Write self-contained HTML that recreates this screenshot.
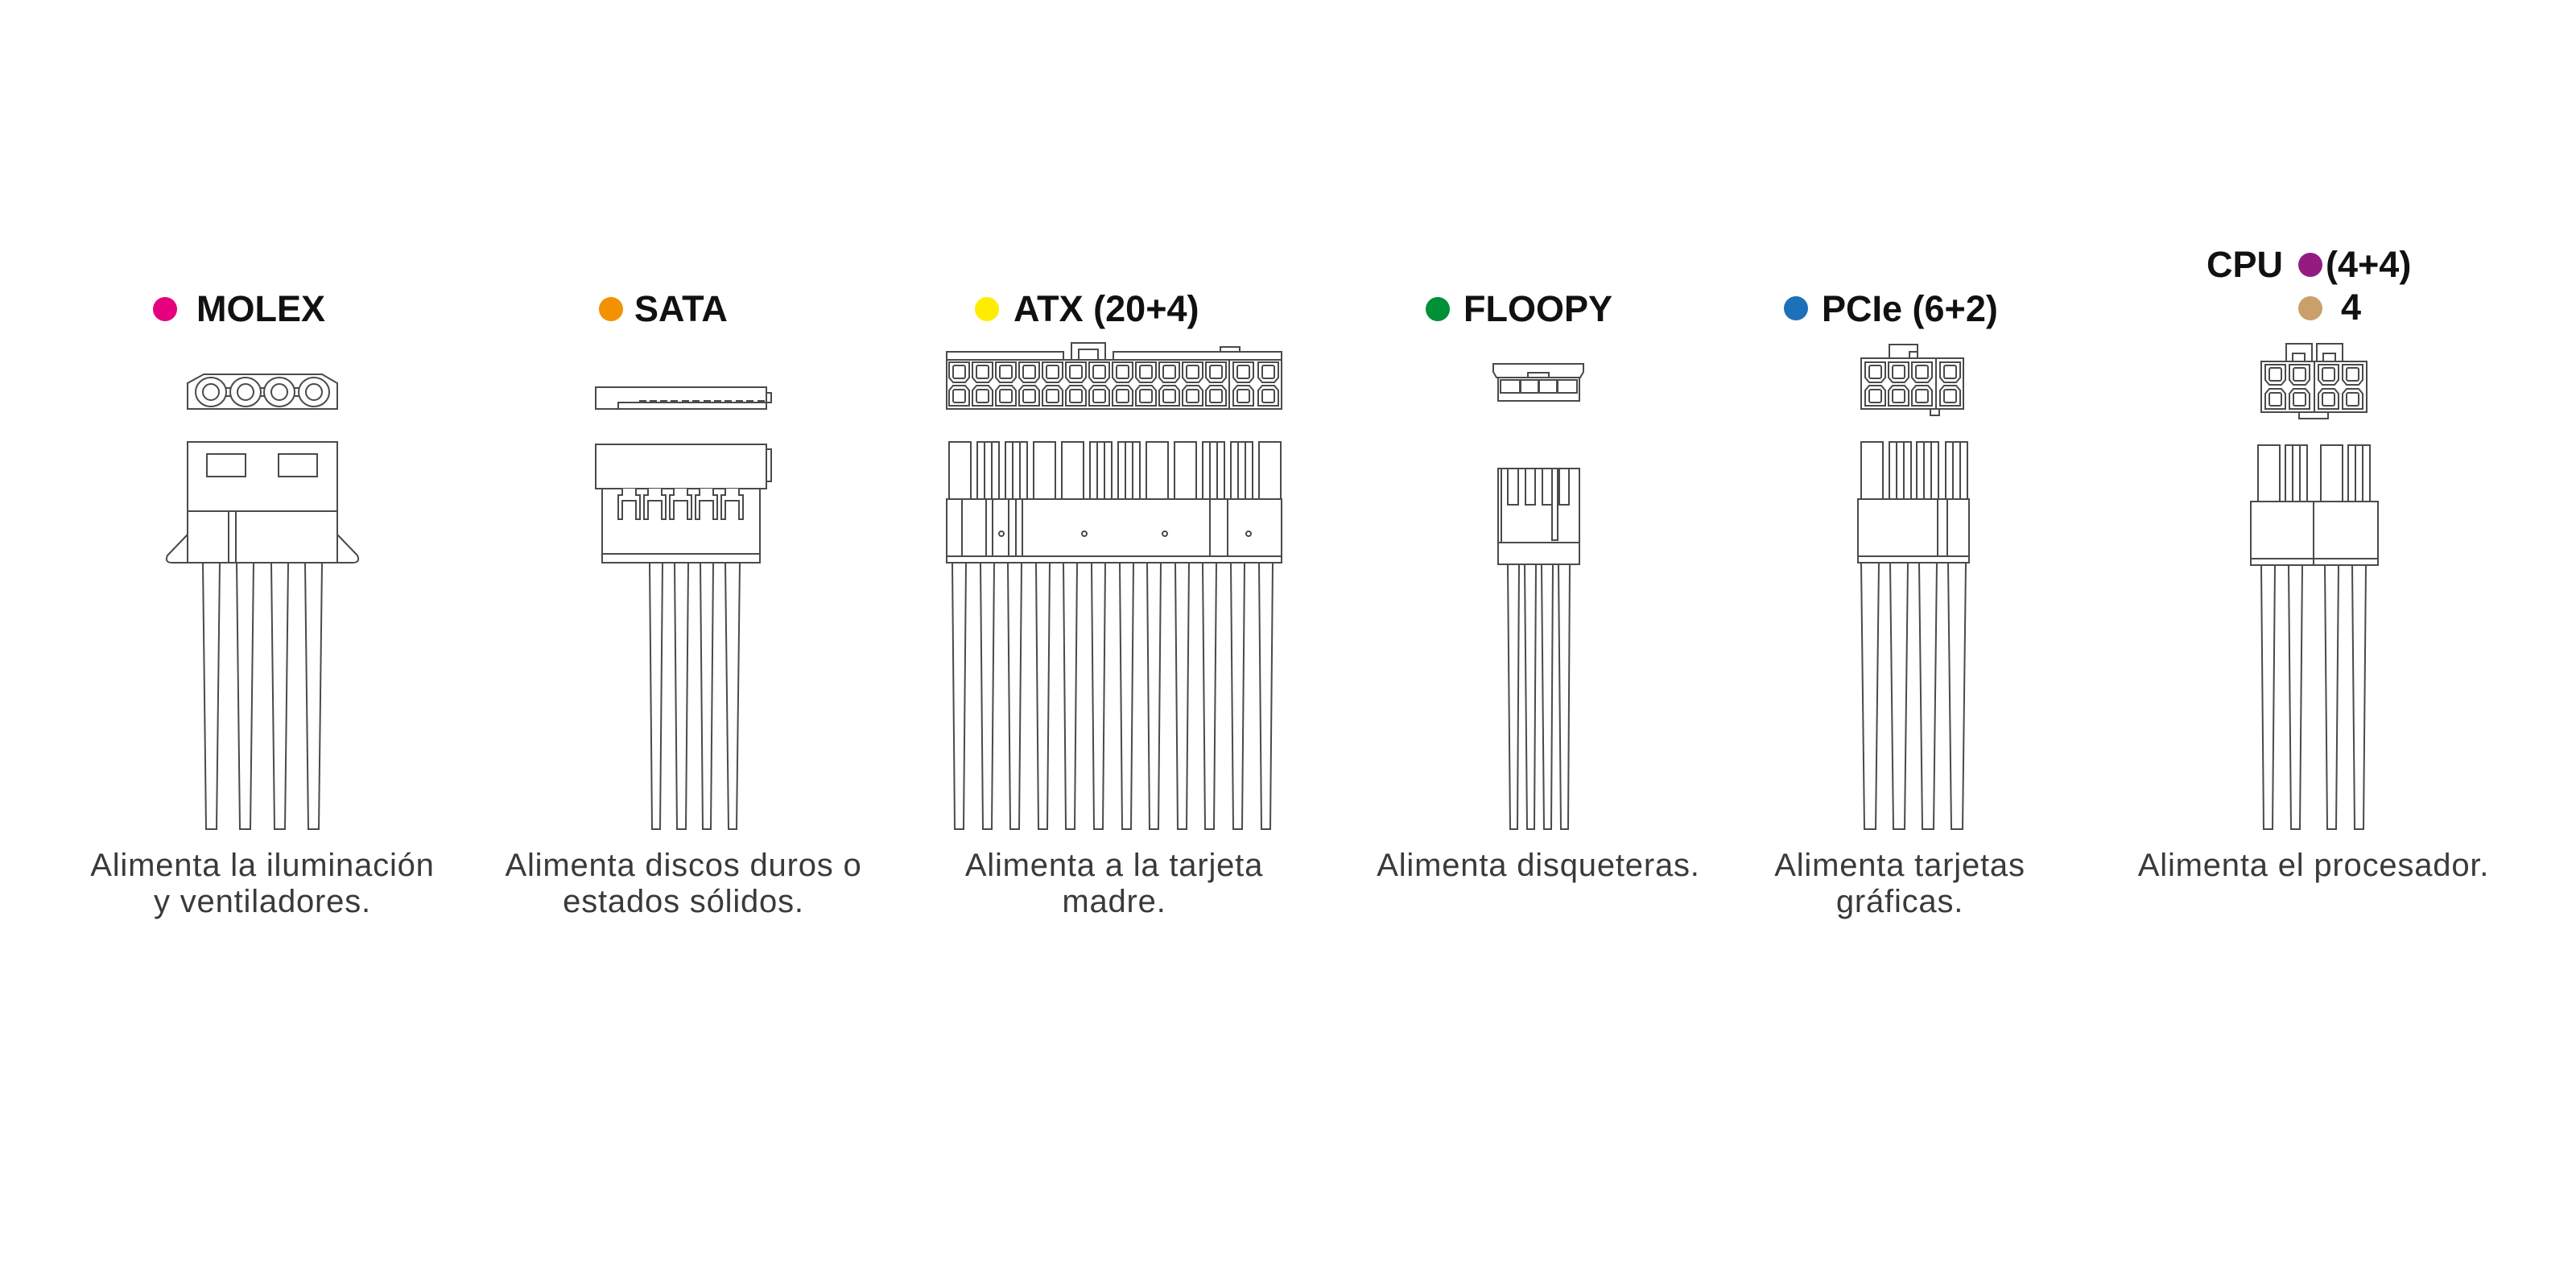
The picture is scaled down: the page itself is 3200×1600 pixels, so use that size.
<!DOCTYPE html>
<html><head><meta charset="utf-8"><style>
html,body{margin:0;padding:0;background:#fff;}
svg{display:block}
.s{fill:#fff;stroke:#4a4a4a;stroke-width:2}
.l{stroke:#4a4a4a;stroke-width:2;fill:none}
.t{font-family:"Liberation Sans",sans-serif;font-weight:bold;font-size:45px;fill:#111}
.d{font-family:"Liberation Sans",sans-serif;font-size:40px;letter-spacing:0.8px;fill:#3a3a3a;text-anchor:middle}
</style></head><body>
<svg width="3200" height="1600" viewBox="0 0 3200 1600" xmlns="http://www.w3.org/2000/svg">
<defs>
<g id="pin"><path class="s" d="M1 1H26V20L21 26H6L1 20Z"/><rect class="s" x="6" y="5" width="15" height="16" rx="2"/></g>
<g id="pin2"><path class="s" d="M6 1H21L26 7V26H1V7Z"/><rect class="s" x="6" y="6" width="15" height="16" rx="2"/></g>
<g id="tabL"><rect class="s" x="0" y="0" width="27" height="71"/><line class="l" x1="9" y1="0" x2="9" y2="71"/><line class="l" x1="18" y1="0" x2="18" y2="71"/></g>
<g id="tabP"><rect class="s" x="0" y="0" width="27" height="71"/></g>
<path id="tooth" class="s" d="M773 607V615H768V645H773V622H790V645H795V615H790V607"/>
</defs>

<circle cx="205" cy="384" r="15" fill="#e6007e"/>
<text class="t" x="244" y="399">MOLEX</text>
<circle cx="759" cy="384" r="15" fill="#f39200"/>
<text class="t" x="788" y="399">SATA</text>
<circle cx="1226" cy="384" r="15" fill="#ffed00"/>
<text class="t" x="1259" y="399">ATX (20+4)</text>
<circle cx="1786" cy="384" r="15" fill="#009036"/>
<text class="t" x="1818" y="399">FLOOPY</text>
<circle cx="2231" cy="383" r="15" fill="#1d71b8"/>
<text class="t" x="2263" y="399">PCIe (6+2)</text>
<text class="t" x="2741" y="344">CPU</text>
<circle cx="2870" cy="329" r="15" fill="#951b81"/>
<text class="t" x="2889" y="344">(4+4)</text>
<circle cx="2870" cy="383" r="15" fill="#c9a06a"/>
<text class="t" x="2908" y="397">4</text>

<!-- MOLEX -->
<path class="s" d="M253 465H400L419 476V508H233V476Z"/>
<rect class="s" x="270" y="482" width="115" height="10"/>
<g class="s"><ellipse cx="262" cy="487" rx="19" ry="18"/><ellipse cx="262" cy="487" rx="10" ry="10"/>
<ellipse cx="305" cy="487" rx="19" ry="18"/><ellipse cx="305" cy="487" rx="10" ry="10"/>
<ellipse cx="347" cy="487" rx="19" ry="18"/><ellipse cx="347" cy="487" rx="10" ry="10"/>
<ellipse cx="390" cy="487" rx="19" ry="18"/><ellipse cx="390" cy="487" rx="10" ry="10"/></g>
<path class="s" d="M233 664L208 690Q204 699 214 699H233Z"/>
<path class="s" d="M419 664L444 690Q448 699 438 699H419Z"/>
<rect class="s" x="233" y="549" width="186" height="86"/>
<rect class="s" x="257" y="564" width="48" height="28"/>
<rect class="s" x="346" y="564" width="48" height="28"/>
<rect class="s" x="233" y="635" width="186" height="64"/>
<rect class="s" x="284" y="635" width="9" height="64"/>
<g class="s">
<polygon points="252,699 273,699 269,1030 256,1030"/>
<polygon points="294,699 315,699 311,1030 298,1030"/>
<polygon points="337,699 358,699 354,1030 341,1030"/>
<polygon points="379,699 400,699 396,1030 383,1030"/>
</g>

<!-- SATA -->
<rect class="s" x="952" y="488" width="6" height="12"/>
<rect class="s" x="740" y="481" width="212" height="27"/>
<g class="s">
<rect x="795" y="498" width="7" height="3"/><rect x="808" y="498" width="7" height="3"/><rect x="821" y="498" width="7" height="3"/><rect x="834" y="498" width="7" height="3"/><rect x="848" y="498" width="7" height="3"/><rect x="861" y="498" width="7" height="3"/><rect x="875" y="498" width="7" height="3"/><rect x="888" y="498" width="7" height="3"/><rect x="901" y="498" width="7" height="3"/><rect x="915" y="498" width="7" height="3"/><rect x="928" y="498" width="7" height="3"/><rect x="942" y="498" width="7" height="3"/>
</g>
<rect class="s" x="768" y="500" width="184" height="8"/>
<rect class="s" x="952" y="558" width="6" height="40"/>
<rect class="s" x="740" y="552" width="212" height="55"/>
<rect class="s" x="748" y="607" width="196" height="92"/>
<line class="l" x1="748" y1="688" x2="944" y2="688"/>
<use href="#tooth"/><use href="#tooth" x="32"/><use href="#tooth" x="64"/><use href="#tooth" x="96"/><use href="#tooth" x="128"/>
<g class="s">
<polygon points="807,699 823,699 820,1030 810,1030"/>
<polygon points="838,699 855,699 852,1030 841,1030"/>
<polygon points="870,699 886,699 883,1030 873,1030"/>
<polygon points="901,699 919,699 915,1030 905,1030"/>
</g>

<!-- ATX -->
<rect class="s" x="1331" y="426" width="42" height="21"/>
<rect class="s" x="1340" y="434" width="24" height="13"/>
<rect class="s" x="1516" y="431" width="24" height="16"/>
<rect class="s" x="1176" y="437" width="145" height="10"/>
<rect class="s" x="1383" y="437" width="209" height="10"/>
<rect class="s" x="1176" y="447" width="416" height="61"/>
<line class="l" x1="1527" y1="447" x2="1527" y2="508"/>
<g>
<use href="#pin" x="1178" y="449"/><use href="#pin" x="1207" y="449"/><use href="#pin" x="1236" y="449"/><use href="#pin" x="1265" y="449"/><use href="#pin" x="1294" y="449"/><use href="#pin" x="1323" y="449"/><use href="#pin" x="1352" y="449"/><use href="#pin" x="1381" y="449"/><use href="#pin" x="1410" y="449"/><use href="#pin" x="1439" y="449"/><use href="#pin" x="1468" y="449"/><use href="#pin" x="1497" y="449"/><use href="#pin" x="1531" y="449"/><use href="#pin" x="1562" y="449"/>
<use href="#pin2" x="1178" y="478"/><use href="#pin2" x="1207" y="478"/><use href="#pin2" x="1236" y="478"/><use href="#pin2" x="1265" y="478"/><use href="#pin2" x="1294" y="478"/><use href="#pin2" x="1323" y="478"/><use href="#pin2" x="1352" y="478"/><use href="#pin2" x="1381" y="478"/><use href="#pin2" x="1410" y="478"/><use href="#pin2" x="1439" y="478"/><use href="#pin2" x="1468" y="478"/><use href="#pin2" x="1497" y="478"/><use href="#pin2" x="1531" y="478"/><use href="#pin2" x="1562" y="478"/>
</g>
<g transform="translate(0,549)">
<use href="#tabP" x="1179"/><use href="#tabL" x="1214"/><use href="#tabL" x="1249"/><use href="#tabP" x="1284"/><use href="#tabP" x="1319"/><use href="#tabL" x="1354"/><use href="#tabL" x="1389"/><use href="#tabP" x="1424"/><use href="#tabP" x="1459"/><use href="#tabL" x="1494"/><use href="#tabL" x="1529"/><use href="#tabP" x="1564"/>
</g>
<rect class="s" x="1176" y="620" width="416" height="71"/>
<rect class="s" x="1176" y="691" width="416" height="8"/>
<g class="l">
<line x1="1195" y1="620" x2="1195" y2="691"/><line x1="1225" y1="620" x2="1225" y2="691"/><line x1="1233" y1="620" x2="1233" y2="691"/><line x1="1253" y1="620" x2="1253" y2="691"/><line x1="1262" y1="620" x2="1262" y2="691"/><line x1="1270" y1="620" x2="1270" y2="691"/><line x1="1503" y1="620" x2="1503" y2="691"/><line x1="1525" y1="620" x2="1525" y2="691"/>
</g>
<g class="s"><circle cx="1244" cy="663" r="3"/><circle cx="1347" cy="663" r="3"/><circle cx="1447" cy="663" r="3"/><circle cx="1551" cy="663" r="3"/></g>
<g class="s">
<polygon points="1183,699 1200,699 1197,1030 1186,1030"/>
<polygon points="1218,699 1235,699 1232,1030 1221,1030"/>
<polygon points="1252,699 1269,699 1266,1030 1255,1030"/>
<polygon points="1287,699 1304,699 1301,1030 1290,1030"/>
<polygon points="1321,699 1338,699 1335,1030 1324,1030"/>
<polygon points="1356,699 1373,699 1370,1030 1359,1030"/>
<polygon points="1391,699 1408,699 1405,1030 1394,1030"/>
<polygon points="1425,699 1442,699 1439,1030 1428,1030"/>
<polygon points="1460,699 1477,699 1474,1030 1463,1030"/>
<polygon points="1494,699 1511,699 1508,1030 1497,1030"/>
<polygon points="1529,699 1546,699 1543,1030 1532,1030"/>
<polygon points="1564,699 1581,699 1578,1030 1567,1030"/>
</g>

<!-- FLOPPY -->
<path class="s" d="M1855 452H1967V462L1963 469H1859L1855 462Z"/>
<rect class="s" x="1861" y="469" width="101" height="29"/>
<rect class="s" x="1898" y="463" width="26" height="6"/>
<g class="s">
<rect x="1864" y="472" width="24" height="16"/><rect x="1889" y="472" width="22" height="16"/><rect x="1912" y="472" width="22" height="16"/><rect x="1935" y="472" width="24" height="16"/>
</g>
<rect class="s" x="1861" y="582" width="101" height="119"/>
<line class="l" x1="1865" y1="582" x2="1865" y2="674"/>
<line class="l" x1="1861" y1="674" x2="1962" y2="674"/>
<g class="s">
<rect x="1873" y="582" width="13" height="45"/><rect x="1895" y="582" width="12" height="45"/><rect x="1916" y="582" width="12" height="45"/><rect x="1937" y="582" width="12" height="45"/>
<rect x="1928" y="582" width="7" height="89"/>
</g>
<g class="s">
<polygon points="1873,701 1887,701 1885,1030 1876,1030"/>
<polygon points="1894,701 1908,701 1906,1030 1897,1030"/>
<polygon points="1915,701 1929,701 1927,1030 1918,1030"/>
<polygon points="1936,701 1950,701 1948,1030 1939,1030"/>
</g>

<!-- PCIe -->
<rect class="s" x="2347" y="428" width="35" height="17"/>
<rect class="s" x="2372" y="437" width="10" height="8"/>
<rect class="s" x="2398" y="508" width="11" height="8"/>
<rect class="s" x="2312" y="445" width="127" height="63"/>
<line class="l" x1="2405" y1="445" x2="2405" y2="508"/>
<use href="#pin" x="2316" y="449"/><use href="#pin" x="2345" y="449"/><use href="#pin" x="2374" y="449"/><use href="#pin" x="2409" y="449"/>
<use href="#pin2" x="2316" y="478"/><use href="#pin2" x="2345" y="478"/><use href="#pin2" x="2374" y="478"/><use href="#pin2" x="2409" y="478"/>
<g transform="translate(0,549)">
<use href="#tabP" x="2312"/><use href="#tabL" x="2347"/><use href="#tabL" x="2381"/><use href="#tabL" x="2417"/>
</g>
<rect class="s" x="2308" y="620" width="138" height="71"/>
<rect class="s" x="2308" y="691" width="138" height="8"/>
<line class="l" x1="2407" y1="620" x2="2407" y2="691"/>
<line class="l" x1="2419" y1="620" x2="2419" y2="691"/>
<g class="s">
<polygon points="2312,699 2334,699 2330,1030 2316,1030"/>
<polygon points="2348,699 2370,699 2366,1030 2352,1030"/>
<polygon points="2384,699 2406,699 2402,1030 2388,1030"/>
<polygon points="2420,699 2442,699 2438,1030 2424,1030"/>
</g>

<!-- CPU -->
<rect class="s" x="2840" y="427" width="32" height="22"/>
<rect class="s" x="2848" y="439" width="15" height="10"/>
<rect class="s" x="2878" y="427" width="32" height="22"/>
<rect class="s" x="2886" y="439" width="15" height="10"/>
<rect class="s" x="2856" y="512" width="36" height="8"/>
<rect class="s" x="2809" y="449" width="131" height="63"/>
<line class="l" x1="2875" y1="449" x2="2875" y2="512"/>
<use href="#pin" x="2813" y="452"/><use href="#pin" x="2843" y="452"/><use href="#pin" x="2879" y="452"/><use href="#pin" x="2909" y="452"/>
<use href="#pin2" x="2813" y="482"/><use href="#pin2" x="2843" y="482"/><use href="#pin2" x="2879" y="482"/><use href="#pin2" x="2909" y="482"/>
<g transform="translate(0,553)">
<use href="#tabP" x="2805"/><use href="#tabL" x="2839"/><use href="#tabP" x="2883"/><use href="#tabL" x="2917"/>
</g>
<rect class="s" x="2796" y="623" width="78" height="79"/>
<rect class="s" x="2874" y="623" width="80" height="79"/>
<line class="l" x1="2796" y1="694" x2="2954" y2="694"/>
<g class="s">
<polygon points="2809,702 2826,702 2823,1030 2812,1030"/>
<polygon points="2843,702 2860,702 2857,1030 2846,1030"/>
<polygon points="2888,702 2905,702 2902,1030 2891,1030"/>
<polygon points="2922,702 2939,702 2936,1030 2925,1030"/>
</g>

<text class="d" x="326" y="1088">Alimenta la iluminación</text>
<text class="d" x="326" y="1133">y ventiladores.</text>
<text class="d" x="849" y="1088">Alimenta discos duros o</text>
<text class="d" x="849" y="1133">estados sólidos.</text>
<text class="d" x="1384" y="1088">Alimenta a la tarjeta</text>
<text class="d" x="1384" y="1133">madre.</text>
<text class="d" x="1911" y="1088">Alimenta disqueteras.</text>
<text class="d" x="2360" y="1088">Alimenta tarjetas</text>
<text class="d" x="2360" y="1133">gráficas.</text>
<text class="d" x="2874" y="1088">Alimenta el procesador.</text>
</svg>
</body></html>
